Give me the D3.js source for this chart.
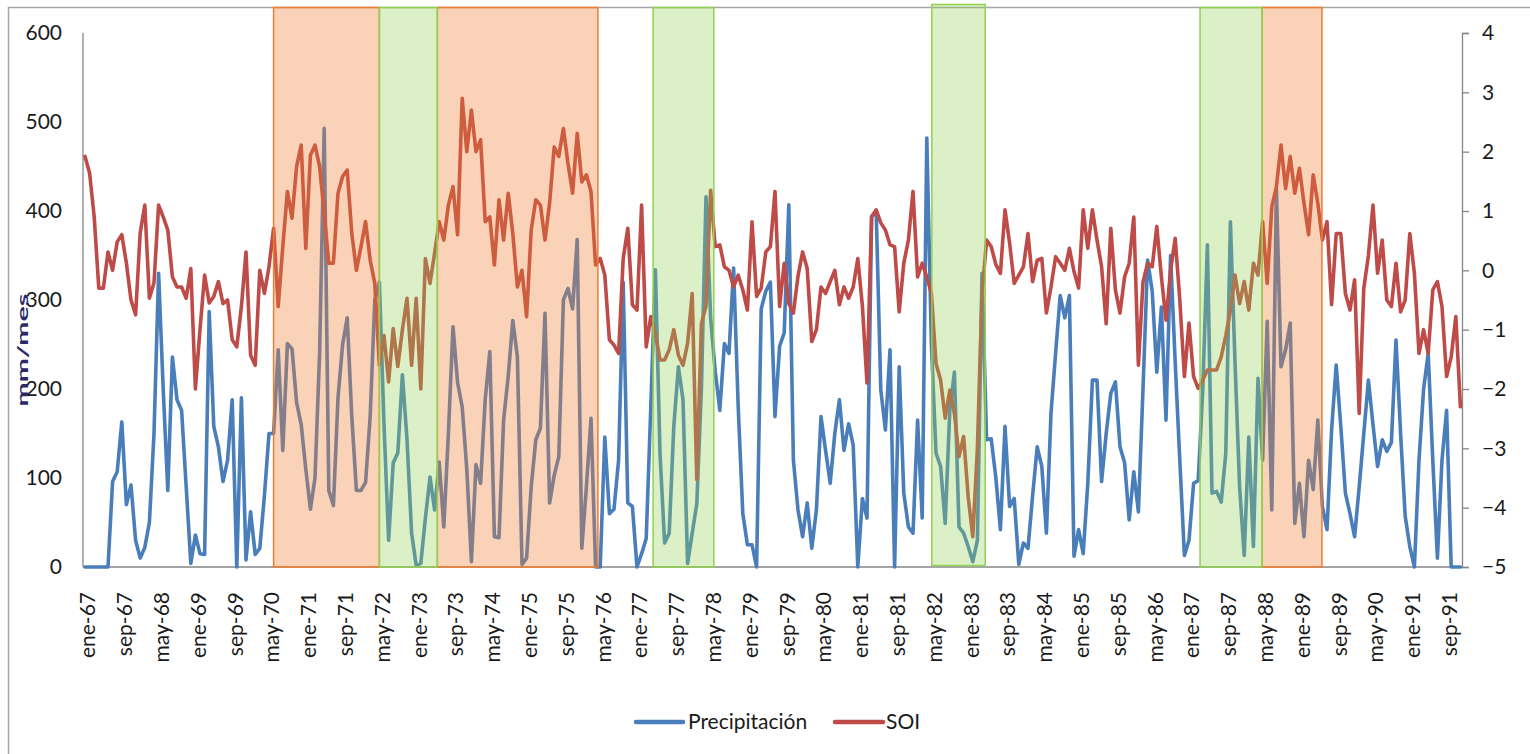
<!DOCTYPE html>
<html><head><meta charset="utf-8">
<script src="https://cdn.jsdelivr.net/npm/d3@7/dist/d3.min.js"></script>
<style>html,body{margin:0;padding:0;background:#fff;}svg{display:block;font-family:Lato,"Liberation Sans",sans-serif;}</style>
</head><body>
<svg id="chart" width="1530" height="754"></svg>
<script>
// ---------- data ----------
const monthNames = ["ene","feb","mar","abr","may","jun","jul","ago","sep","oct","nov","dic"];
const years = ["67","68","69","70","71","72","73","74","75","76","77","78","79","80","81","82","83","84","85","86","87","88","89","90","91"];
const categories = years.flatMap(y => monthNames.map(m => m + "-" + y));

const precipitacion = [
  0,0,0,0,0,0,96,107,163,70,92,30,
  10,22,50,150,330,200,86,236,188,176,90,4,
  36,15,14,287,158,135,96,120,188,0,190,8,
  62,14,21,80,150,150,244,131,251,245,185,160,
  110,65,100,240,493,86,69,190,250,280,169,86,
  86,95,170,300,320,160,30,117,128,216,143,38,
  2,4,55,101,64,118,45,150,270,207,180,110,
  6,115,94,188,242,34,33,165,214,277,236,3,
  10,90,143,156,285,72,103,124,300,313,290,368,
  21,90,167,0,0,146,60,65,120,320,72,68,
  0,15,32,180,334,128,27,38,158,225,188,4,
  38,71,200,416,280,220,176,251,240,336,180,60,
  25,25,0,290,310,320,169,248,263,407,120,64,
  34,72,21,64,169,131,94,150,188,131,161,137,
  0,77,55,394,399,199,154,244,0,225,83,45,
  38,165,55,482,250,128,113,49,176,219,45,38,
  23,6,30,330,143,144,101,42,158,68,77,3,
  27,21,80,135,113,38,173,240,305,280,305,12,
  42,15,94,210,210,96,150,195,208,135,117,53,
  107,62,200,345,310,219,292,165,350,230,120,13,
  30,94,97,200,362,83,85,73,128,388,230,90,
  13,146,23,212,120,276,64,424,225,244,274,49,
  94,34,120,87,165,68,42,154,227,158,83,60,
  34,90,150,210,160,113,143,130,140,255,150,57,
  23,0,120,200,240,120,10,120,176,0,0,0
];

const soi = [
  1.92,1.64,0.90,-0.30,-0.30,0.31,0.00,0.48,0.60,0.12,-0.50,-0.75,
  0.63,1.10,-0.47,-0.21,1.10,0.90,0.68,-0.11,-0.28,-0.28,-0.47,0.03,
  -2.00,-1.00,-0.08,-0.55,-0.44,-0.19,-0.56,-0.50,-1.17,-1.29,-0.61,0.31,
  -1.43,-1.60,0.00,-0.39,0.06,0.71,-0.61,0.40,1.33,0.88,1.75,2.11,
  0.37,1.94,2.11,1.75,0.96,0.12,0.12,1.30,1.58,1.69,0.62,0.00,
  0.40,0.82,0.17,-0.22,-1.60,-1.10,-1.88,-0.98,-1.62,-1.00,-0.47,-1.60,
  -0.47,-2.00,0.20,-0.22,0.29,0.82,0.51,1.10,1.41,0.60,2.90,2.00,
  2.70,2.00,2.20,0.82,0.90,0.09,1.19,0.51,1.30,0.62,-0.28,0.00,
  -0.78,0.68,1.19,1.10,0.51,1.13,2.08,1.92,2.39,1.80,1.30,2.31,
  1.49,1.61,1.33,0.09,0.20,-0.08,-1.17,-1.26,-1.40,0.20,0.71,-0.58,
  -0.67,1.10,-1.29,-0.78,-1.06,-1.51,-1.51,-1.34,-1.00,-1.43,-1.60,-1.23,
  -0.39,-3.53,-0.90,-0.60,1.35,0.40,0.43,0.06,0.00,-0.28,-0.08,-0.33,
  -0.67,0.82,-0.44,-0.30,0.31,0.40,1.33,-0.61,0.12,-0.56,-0.72,-0.10,
  0.31,0.03,-1.20,-1.00,-0.28,-0.39,-0.19,0.00,-0.58,-0.28,-0.47,-0.28,
  0.20,-0.60,-1.90,0.90,1.02,0.80,0.68,0.43,0.40,-0.70,0.12,0.51,
  1.33,-0.11,0.12,-0.11,-0.39,-1.57,-1.85,-2.49,-2.02,-2.41,-3.14,-2.80,
  -3.82,-4.49,-3.00,-0.40,0.51,0.40,0.10,-0.05,1.02,0.46,-0.22,-0.08,
  0.06,0.62,-0.19,0.17,0.20,-0.72,-0.28,0.23,0.12,0.00,0.37,-0.02,
  -0.30,1.02,0.37,1.02,0.51,0.06,-0.90,0.71,-0.33,-0.72,-0.11,0.12,
  0.90,-1.60,-0.20,0.12,0.06,0.74,-0.11,-0.84,0.00,0.54,-0.50,-1.79,
  -0.89,-1.79,-1.99,-1.85,-1.68,-1.68,-1.68,-1.46,-1.10,-0.67,-0.08,-0.56,
  -0.19,-0.67,0.12,-0.08,0.82,-0.22,1.07,1.41,2.11,1.38,1.92,1.30,
  1.72,1.13,0.60,1.61,1.13,0.51,0.82,-0.58,0.62,0.62,-0.39,-0.67,
  -0.16,-2.41,-0.30,0.25,1.10,-0.05,0.51,-0.50,-0.61,0.12,-0.70,-0.50,
  0.62,-0.05,-1.40,-1.00,-1.40,-0.33,-0.19,-0.61,-1.79,-1.46,-0.78,-2.30
];

const leftTicks = [0,100,200,300,400,500,600];
const rightTicks = [-5,-4,-3,-2,-1,0,1,2,3,4];
// shaded periods, as [start, end] positions on the month axis (category index)
const ninaPeriods = [[41,64],[76.6,111.5],[255.9,268.9]];
const ninoPeriods = [[64,76.6],[123.5,136.7],[184.1,195.7],[242.4,255.9]];
const labelEvery = 8;
const seriesNames = ["Precipitación","SOI"];

// ---------- layout ----------
const svg = d3.select("#chart");
const L = 83, R = 1462, T = 33, B = 567;
const x = d3.scaleLinear().domain([0, categories.length - 1]).range([85, 1460.4]);
const yL = d3.scaleLinear().domain([0, 600]).range([B, T]);
const yR = d3.scaleLinear().domain([-5, 4]).range([B, T]);
const blue = "#4a7ebb", red = "#be4b48";
const txt = "#1a1a1a", axisCol = "#868686";

// chart frame
svg.append("rect").attr("x", 8.5).attr("y", 7.5).attr("width", 1530).attr("height", 760)
  .attr("fill", "none").attr("stroke", "#a6a6a6").attr("stroke-width", 1.5);

// axes lines
svg.append("line").attr("x1", L).attr("x2", L).attr("y1", T).attr("y2", B).attr("stroke", axisCol).attr("stroke-width", 1.3);
svg.append("line").attr("x1", L).attr("x2", R).attr("y1", B).attr("y2", B).attr("stroke", axisCol).attr("stroke-width", 1.3);

// right axis with ticks
const rAxis = d3.axisRight(yR).tickValues(rightTicks).tickSize(7).tickPadding(13).tickFormat(d3.format("d"));
const rg = svg.append("g").attr("transform", `translate(${R},0)`).call(rAxis);
rg.select(".domain").attr("stroke", axisCol).attr("stroke-width", 1.3);
rg.selectAll(".tick line").attr("stroke", axisCol).attr("stroke-width", 1.3);
rg.selectAll(".tick text").attr("fill", txt).style("font-size", "21px").style("font-family", "Lato");

// left axis labels
const lAxis = d3.axisLeft(yL).tickValues(leftTicks).tickSize(0).tickPadding(21);
const lg = svg.append("g").attr("transform", `translate(${L},0)`).call(lAxis);
lg.select(".domain").remove();
lg.selectAll(".tick text").attr("fill", txt).style("font-size", "21px").style("font-family", "Lato");

// x labels
const xl = svg.append("g");
categories.forEach((c, i) => {
  if (i % labelEvery !== 0) return;
  xl.append("text")
    .attr("transform", `translate(${x(i) + 3},592) rotate(-90)`)
    .attr("text-anchor", "end").attr("dy", "0.35em")
    .attr("fill", txt).style("font-size", "21px").text(c);
});

// y title
svg.append("text")
  .attr("transform", "translate(22,350) rotate(-90) scale(1.8,1)")
  .attr("text-anchor", "middle").attr("dy", "0.35em")
  .attr("fill", "#2a2a66").style("font-size", "16px").style("font-weight", "bold").text("mm/mes");

// series lines
const lineP = d3.line().x((d, i) => x(i)).y(d => yL(d));
const lineS = d3.line().x((d, i) => x(i)).y(d => yR(d));
svg.append("path").datum(precipitacion).attr("d", lineP).attr("fill", "none")
  .attr("stroke", blue).attr("stroke-width", 3.6).attr("stroke-linejoin", "round").attr("stroke-linecap", "round");
svg.append("path").datum(soi).attr("d", lineS).attr("fill", "none")
  .attr("stroke", red).attr("stroke-width", 3.6).attr("stroke-linejoin", "round").attr("stroke-linecap", "round");

// shaded periods (drawn over the lines, semi-transparent)
svg.selectAll("rect.nina").data(ninaPeriods).enter().append("rect").attr("class", "nina")
  .attr("x", d => x(d[0])).attr("width", d => x(d[1]) - x(d[0]))
  .attr("y", 7.5).attr("height", B - 7.5)
  .attr("fill", "rgba(237,125,49,0.35)").attr("stroke", "#ed7d31").attr("stroke-width", 1.5);
svg.selectAll("rect.nino").data(ninoPeriods).enter().append("rect").attr("class", "nino")
  .attr("x", d => x(d[0])).attr("width", d => x(d[1]) - x(d[0]))
  .attr("y", (d, i) => i === 2 ? 4.5 : 7.5).attr("height", (d, i) => B - (i === 2 ? 6 : 7.5))
  .attr("fill", "rgba(146,208,80,0.32)").attr("stroke", "#92d050").attr("stroke-width", 1.5);

// legend
const lgY = 722;
const leg = svg.append("g");
[[636, 683, 688, blue, seriesNames[0]], [835, 883, 886, red, seriesNames[1]]].forEach(([a, b, t, c, n]) => {
  leg.append("line").attr("x1", a).attr("x2", b).attr("y1", lgY).attr("y2", lgY)
    .attr("stroke", c).attr("stroke-width", 4.5).attr("stroke-linecap", "round");
  leg.append("text").attr("x", t).attr("y", lgY).attr("dy", "0.35em")
    .attr("fill", txt).style("font-size", "21px").text(n);
});
</script>
</body></html>
